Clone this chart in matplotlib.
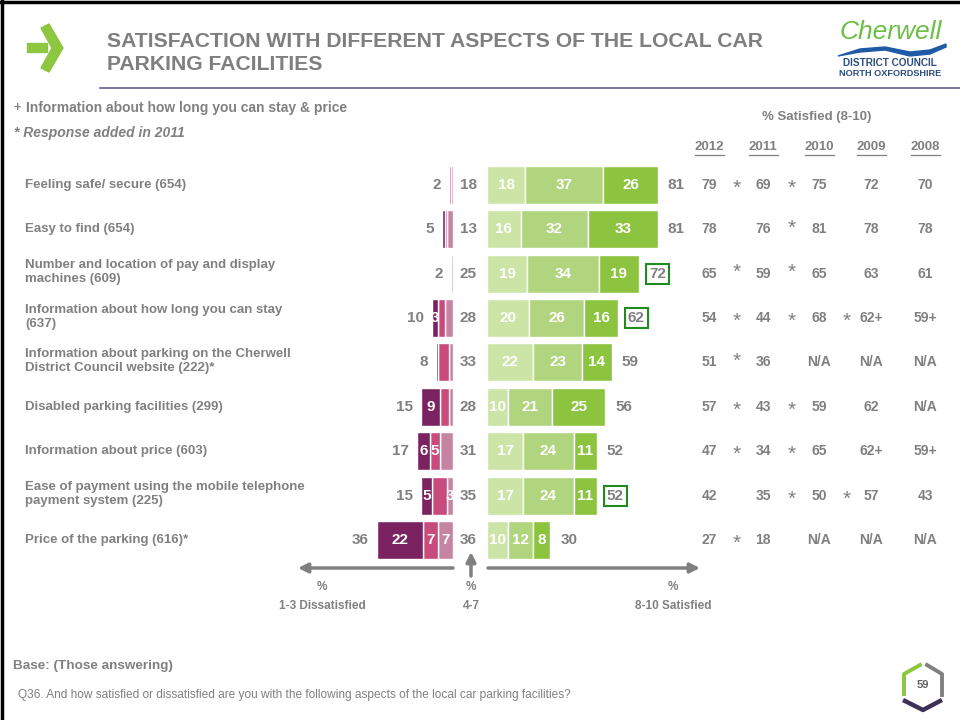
import numpy as np
import matplotlib.pyplot as plt
import matplotlib.transforms as mtransforms
from matplotlib.patches import Polygon
from matplotlib.lines import Line2D

plt.rcParams['font.family'] = ['Liberation Sans', 'DejaVu Sans']

W, H = 960, 720
GRAY = "#808080"

labels = [
    "Feeling safe/ secure (654)",
    "Easy to find (654)",
    "Number and location of pay and display\nmachines (609)",
    "Information about how long you can stay\n(637)",
    "Information about parking on the Cherwell\nDistrict Council website (222)*",
    "Disabled parking facilities (299)",
    "Information about price (603)",
    "Ease of payment using the mobile telephone\npayment system (225)",
    "Price of the parking (616)*",
]

# dissatisfied scores 1, 2, 3
dis_1 = [0, 1, 0, 3, 1, 9, 6, 5, 22]
dis_2 = [1, 1, 0, 3, 5, 4, 5, 7, 7]
dis_3 = [1, 3, 1, 4, 2, 2, 6, 3, 7]
dis_total = [2, 5, 2, 10, 8, 15, 17, 15, 36]
dis_shown = [(0, 0, 0), (0, 0, 0), (0, 0, 0), (1, 0, 0), (0, 0, 0),
             (1, 0, 0), (1, 1, 0), (1, 0, 1), (1, 1, 1)]

neutral = [18, 13, 25, 28, 33, 28, 31, 35, 36]

# satisfied scores 8, 9, 10
sat_8 = [18, 16, 19, 20, 22, 10, 17, 17, 10]
sat_9 = [37, 32, 34, 26, 23, 21, 24, 24, 12]
sat_10 = [26, 33, 19, 16, 14, 25, 11, 11, 8]
sat_total = [81, 81, 72, 62, 59, 56, 52, 52, 30]
sat_boxed = [False, False, True, True, False, False, False, True, False]

years = ["2012", "2011", "2010", "2009", "2008"]
trend = [
    ["79", "78", "65", "54", "51", "57", "47", "42", "27"],
    ["69", "76", "59", "44", "36", "43", "34", "35", "18"],
    ["75", "81", "65", "68", "N/A", "59", "65", "50", "N/A"],
    ["72", "78", "63", "62+", "N/A", "62", "62+", "57", "N/A"],
    ["70", "78", "61", "59+", "N/A", "N/A", "59+", "43", "N/A"],
]
# significance stars between year columns: 0 none, 1 star, 2 raised star
stars = [
    [1, 0, 2, 1, 2, 1, 1, 0, 1],
    [1, 2, 2, 1, 0, 1, 1, 1, 0],
    [0, 0, 0, 1, 0, 0, 0, 1, 0],
]

dis_colors = ["#7B2361", "#C94A7C", "#C585A2"]
sat_colors = ["#CCE4A6", "#B1D57E", "#8CC43F"]


def fx(x):
    return x / W


def fy(y):
    return 1 - y / H


fig = plt.figure(figsize=(9.6, 7.2), dpi=100)

# bars axes: 2.11 px per percentage point, zero at x=453 px
ax = fig.add_axes([fx(300), fy(562.2), 400 / W, 399.6 / H])
ax.set_xlim(-72.5, 117)
ax.set_ylim(8.5, -0.5)
ax.axis("off")

GAP = 16.1   # start of the satisfied bars
MID = 7.1    # neutral column
y = np.arange(len(labels))
bh = 0.86

d1, d2, d3 = np.array(dis_1), np.array(dis_2), np.array(dis_3)
s8, s9, s10 = np.array(sat_8), np.array(sat_9), np.array(sat_10)

dis_sets = [(d3, -d3), (d2, -(d3 + d2)), (d1, -(d3 + d2 + d1))]
dis_bars = []
for (vals, left), c in zip(dis_sets, dis_colors[::-1]):
    dis_bars.append(ax.barh(y, vals, left=left, height=bh, color=c,
                            edgecolor="white", linewidth=1.0))
dis_bars = dis_bars[::-1]  # order 1, 2, 3

sat_sets = [(s8, GAP), (s9, GAP + s8), (s10, GAP + s8 + s9)]
sat_bars = []
for (vals, left), c in zip(sat_sets, sat_colors):
    sat_bars.append(ax.barh(y, vals, left=left, height=bh, color=c,
                            edgecolor="white", linewidth=1.0))

seg_font = dict(color="white", fontsize=11, fontweight="bold",
                ha="center", va="center")
for k, vals in enumerate([d1, d2, d3]):
    for i, v in enumerate(vals):
        if dis_shown[i][k]:
            rect = dis_bars[k][i]
            t = ax.text(rect.get_x() + rect.get_width() / 2, i, str(v), **seg_font)
            t.set_clip_path(rect)

for k, vals in enumerate([s8, s9, s10]):
    for i, v in enumerate(vals):
        rect = sat_bars[k][i]
        t = ax.text(rect.get_x() + rect.get_width() / 2, i, str(v), **seg_font)
        t.set_clip_path(rect)

num_font = dict(color=GRAY, fontsize=11, fontweight="bold", va="center")
dis_sum = d1 + d2 + d3
sat_sum = s8 + s9 + s10
for i in range(len(labels)):
    ax.text(-dis_sum[i] - 3.8, i, str(dis_total[i]), ha="right", **num_font)
    ax.text(MID, i, str(neutral[i]), ha="center", **num_font)
    if sat_boxed[i]:
        ax.text(GAP + sat_sum[i] + 4.7, i, str(sat_total[i]), ha="left",
                bbox=dict(boxstyle="square,pad=0.2", fc="white",
                          ec="#1E8C1E", lw=1.5), **num_font)
    else:
        ax.text(GAP + sat_sum[i] + 4.7, i, str(sat_total[i]), ha="left",
                **num_font)

# row labels and trend table share the bar rows
blend = mtransforms.blended_transform_factory(fig.transFigure, ax.transData)
for i, lab in enumerate(labels):
    off = -0.03 if "\n" in lab else 0.0
    fig.text(fx(25), i + off, lab, transform=blend, ha="left", va="center",
             fontsize=9.5, fontweight="bold", color=GRAY, linespacing=1.25)

col_x = [709, 763, 819, 871, 925]
star_x = [737, 792, 847]
for j, (yr, cx) in enumerate(zip(years, col_x)):
    fig.text(fx(cx), fy(147), yr, ha="center", va="center", fontsize=9.5,
             fontweight="bold", color=GRAY)
    fig.add_artist(Line2D([fx(cx - 14.5), fx(cx + 14.5)], [fy(155), fy(155)],
                          color=GRAY, lw=0.9))
    for i, val in enumerate(trend[j]):
        fig.text(fx(cx), i, val, transform=blend, ha="center", va="center",
                 fontsize=10, fontweight="bold", color=GRAY)
for j, sx in enumerate(star_x):
    for i, s in enumerate(stars[j]):
        if s:
            off = 0.08 if s == 1 else -0.02
            fig.text(fx(sx), i + off, "*", transform=blend, ha="center",
                     va="center", fontsize=15, color=GRAY)

fig.text(fx(817), fy(117), "% Satisfied (8-10)", ha="center", va="center",
         fontsize=9.5, fontweight="bold", color=GRAY)

# axis arrows under the bars
arrow = dict(arrowstyle="-|>", color=GRAY, lw=2.5, mutation_scale=14,
             shrinkA=0, shrinkB=0)
ax.annotate("", xy=(fx(298), fy(568)), xytext=(fx(453), fy(568)),
            xycoords="figure fraction", arrowprops=arrow)
ax.annotate("", xy=(fx(471), fy(552)), xytext=(fx(471), fy(576)),
            xycoords="figure fraction", arrowprops=arrow)
ax.annotate("", xy=(fx(700), fy(568)), xytext=(fx(488), fy(568)),
            xycoords="figure fraction", arrowprops=arrow)
for cx, cap in [(322, "1-3 Dissatisfied"), (471, "4-7"), (673, "8-10 Satisfied")]:
    fig.text(fx(cx), fy(587), "%", ha="center", va="center", fontsize=8.5,
             fontweight="bold", color=GRAY)
    fig.text(fx(cx), fy(606), cap, ha="center", va="center", fontsize=8.5,
             fontweight="bold", color=GRAY)

# notes
fig.text(fx(14), fy(108), "+", ha="left", va="center", fontsize=9,
         fontweight="bold", color=GRAY)
fig.text(fx(26), fy(108), "Information about how long you can stay & price",
         ha="left", va="center", fontsize=10, fontweight="bold", color=GRAY)
fig.text(fx(14), fy(133), "* Response added in 2011", ha="left", va="center",
         fontsize=10, fontweight="bold", style="italic", color=GRAY)

# header
fig.text(fx(107), fy(53), "SATISFACTION WITH DIFFERENT ASPECTS OF THE LOCAL CAR\nPARKING FACILITIES",
         ha="left", va="center", fontsize=15.2, fontweight="bold", color="#7F7F7F",
         linespacing=1.25)
fig.add_artist(Line2D([fx(100), fx(960)], [fy(88), fy(88)], color="#6E5B92", lw=1.2))
fig.add_artist(Line2D([0, 1], [fy(1.5), fy(1.5)], color="black", lw=2.5))
fig.add_artist(Line2D([fx(1.5), fx(1.5)], [0, 1], color="black", lw=2.5))

icon_green = "#8DC63F"
fig.add_artist(Polygon([(fx(27), fy(43)), (fx(47), fy(43)), (fx(47), fy(52)),
                        (fx(27), fy(52))], closed=True, color=icon_green,
                       transform=fig.transFigure))
fig.add_artist(Polygon([(fx(41), fy(28)), (fx(49), fy(24)), (fx(63), fy(48)),
                        (fx(49), fy(72)), (fx(41), fy(68)), (fx(52), fy(48))],
                       closed=True, color=icon_green, transform=fig.transFigure))

# logo
fig.text(fx(891), fy(32), "Cherwell", ha="center", va="center", fontsize=19,
         style="italic", color="#6CBE45")
fig.add_artist(Polygon([(fx(838), fy(56)), (fx(860), fy(49)), (fx(885), fy(47)),
                        (fx(910), fy(52)), (fx(930), fy(50)), (fx(946), fy(44)),
                        (fx(946), fy(47)), (fx(930), fy(54)), (fx(910), fy(56)),
                        (fx(885), fy(50)), (fx(860), fy(52))],
                       closed=True, color="#1F5AA6", transform=fig.transFigure))
fig.text(fx(890), fy(63.5), "DISTRICT COUNCIL", ha="center", va="center",
         fontsize=7.2, fontweight="bold", color="#2C4D7F")
fig.text(fx(890), fy(74), "NORTH OXFORDSHIRE", ha="center", va="center",
         fontsize=6.6, fontweight="bold", color="#2C4D7F")

# footer
fig.text(fx(13), fy(666), "Base: (Those answering)", ha="left", va="center",
         fontsize=9.7, fontweight="bold", color=GRAY)
fig.text(fx(18), fy(695),
         "Q36. And how satisfied or dissatisfied are you with the following aspects of the local car parking facilities?",
         ha="left", va="center", fontsize=8.6, color=GRAY)

# page badge
fig.add_artist(Line2D([fx(920), fx(904), fx(904)], [fy(665), fy(674), fy(694)],
                      color=icon_green, lw=2.8))
fig.add_artist(Line2D([fx(927), fx(942), fx(942)], [fy(665), fy(674), fy(695)],
                      color=GRAY, lw=2.8))
fig.add_artist(Line2D([fx(905), fx(923), fx(940)], [fy(701), fy(710), fy(701)],
                      color="#3D3157", lw=3.2))
fig.text(fx(923), fy(685), "59", ha="center", va="center", fontsize=8,
         fontweight="bold", color="#606060")

fig.savefig("out.png", dpi=100)
